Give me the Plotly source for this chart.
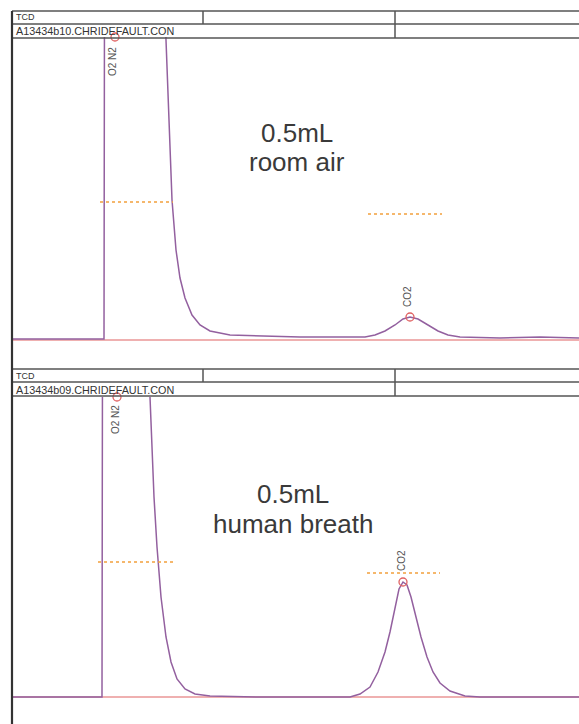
import plotly.graph_objects as go

W, H = 579, 724

# ---------------- data (time in min, signal in arbitrary units) ----------------
t_top = [0.00, 0.92, 0.93, 1.48, 1.54, 1.57, 1.60, 1.64, 1.68, 1.73, 1.80, 1.88, 1.98, 2.18,
         2.48, 2.88, 3.28, 3.53, 3.63, 3.73, 3.83, 3.91, 3.98, 4.06, 4.16, 4.26, 4.36, 4.48,
         4.88, 5.28, 5.67]
sig_top = [1, 1, 700, 700, 300, 210, 140, 90, 62, 42, 25, 15, 9, 5,
           4, 3, 3, 3, 5, 9, 15, 21, 23, 21, 15, 9, 5, 3,
           2, 3, 2]

t_bot = [0.00, 0.90, 0.91, 1.34, 1.38, 1.40, 1.42, 1.45, 1.49, 1.54, 1.59, 1.65, 1.73, 1.83,
         1.98, 2.48, 3.38, 3.48, 3.58, 3.66, 3.73, 3.78, 3.83, 3.87, 3.91, 3.95, 3.99, 4.04,
         4.09, 4.15, 4.21, 4.28, 4.38, 4.53, 4.68, 5.67]
sig_bot = [0, 0, 700, 700, 300, 250, 200, 150, 100, 60, 35, 18, 8, 3,
           1, 0, 0, 3, 10, 25, 45, 65, 90, 108, 115, 112, 100, 80,
           60, 40, 25, 14, 6, 1, 0, 0]

peak_names = ["O2 N2", "CO2"]
peak_t_top = [1.03, 3.98]
peak_s_top = [303, 23]
peak_t_bot = [1.05, 3.91]
peak_s_bot = [300, 115]

# peak-width markers (start, end, level)
width_top = [(0.88, 1.61, 138), (3.56, 4.30, 126)]
width_bot = [(0.86, 1.61, 135), (3.55, 4.28, 124)]

file_top = "A13434b10.CHRIDEFAULT.CON"
file_bot = "A13434b09.CHRIDEFAULT.CON"
label_top = ["0.5mL", "room air"]
label_bot = ["0.5mL", "human breath"]

X_RANGE = [0, 5.67]

# ---------------- styles ----------------
PURPLE = "#93609f"
RED = "#e06262"
ORANGE = "#f2a03c"
GRID = "#555555"

def py(px):
    return 1 - px / H

def pxx(px):
    return px / W

fig = go.Figure()

for xa, ya, t, s, pt, ps, wl in [("x", "y", t_top, sig_top, peak_t_top, peak_s_top, width_top),
                                  ("x2", "y2", t_bot, sig_bot, peak_t_bot, peak_s_bot, width_bot)]:
    fig.add_trace(go.Scatter(x=X_RANGE, y=[0, 0], mode="lines", xaxis=xa, yaxis=ya,
                             line=dict(color=RED, width=1.2), hoverinfo="skip"))
    fig.add_trace(go.Scatter(x=t, y=s, mode="lines", xaxis=xa, yaxis=ya,
                             line=dict(color=PURPLE, width=1.5), hoverinfo="skip"))
    for a, b, lv in wl:
        fig.add_trace(go.Scatter(x=[a, b], y=[lv, lv], mode="lines", xaxis=xa, yaxis=ya,
                                 line=dict(color=ORANGE, width=1.5, dash="dot"), hoverinfo="skip"))
    fig.add_trace(go.Scatter(x=pt, y=ps, mode="markers", xaxis=xa, yaxis=ya, cliponaxis=False,
                             marker=dict(symbol="circle-open", size=8, color=RED,
                                         line=dict(width=1.3, color=RED)), hoverinfo="skip"))

ax_common = dict(showgrid=False, zeroline=False, showticklabels=False, ticks="",
                 showline=False, fixedrange=True)
fig.update_layout(
    width=W, height=H, autosize=False,
    margin=dict(l=0, r=0, t=0, b=0),
    paper_bgcolor="white", plot_bgcolor="white",
    showlegend=False,
    xaxis=dict(domain=[pxx(12), 1], range=X_RANGE, anchor="y", **ax_common),
    yaxis=dict(domain=[py(367), py(37)], range=[-27, 303], anchor="x", **ax_common),
    xaxis2=dict(domain=[pxx(12), 1], range=X_RANGE, anchor="y2", **ax_common),
    yaxis2=dict(domain=[py(724), py(397)], range=[-27, 300], anchor="x2", **ax_common),
)

shapes = []
def hline(y, x0=12, x1=W + 5, w=1.5, c=GRID):
    shapes.append(dict(type="line", xref="paper", yref="paper", x0=pxx(x0), x1=pxx(x1),
                       y0=py(y), y1=py(y), line=dict(color=c, width=w)))
def vline(x, y0, y1, w=1.5, c=GRID):
    shapes.append(dict(type="line", xref="paper", yref="paper", x0=pxx(x), x1=pxx(x),
                       y0=py(y0), y1=py(y1), line=dict(color=c, width=w)))

for top in (11, 369):
    hline(top)
    hline(top + 13)
    hline(top + 27)
    vline(203, top, top + 13)
    vline(395, top, top + 27)
vline(12, 11, H + 5, w=2.2, c="#333333")

fig.update_layout(shapes=shapes)

ann = []
def head(text, ypx, size):
    ann.append(dict(text=text, xref="paper", yref="paper", x=pxx(14), y=py(ypx),
                    xanchor="left", yanchor="middle", showarrow=False,
                    font=dict(family="Liberation Sans, Arial", size=size, color="#333333")))

head("TCD", 17.5, 9)
head(file_top, 31, 10.8)
head("TCD", 375.5, 9)
head(file_bot, 389.5, 10.8)

label_shift_top = [-25, 20]
label_shift_bot = [-23, 21]
for xa, ya, pt, ps, shifts in [("x", "y", peak_t_top, peak_s_top, label_shift_top),
                                ("x2", "y2", peak_t_bot, peak_s_bot, label_shift_bot)]:
    for name, t, s, sh in zip(peak_names, pt, ps, shifts):
        ann.append(dict(text=name, x=t, y=s, xref=xa, yref=ya, textangle=-90,
                        showarrow=False, yshift=sh, xshift=-2,
                        xanchor="center", yanchor="middle",
                        font=dict(family="Liberation Sans, Arial", size=10, color="#555555")))

for xa, ya, tc, levels, labels in [("x", "y", 2.85, [207, 178], label_top),
                                   ("x2", "y2", 2.81, [203, 173], label_bot)]:
    for lv, txt in zip(levels, labels):
        ann.append(dict(text=txt, x=tc, y=lv, xref=xa, yref=ya, showarrow=False,
                        xanchor="center", yanchor="middle",
                        font=dict(family="Liberation Sans, Arial", size=26, color="#3a3a3a")))

fig.update_layout(annotations=ann)
fig.write_html("out.html", config={"displayModeBar": False, "staticPlot": True},
               post_script="document.body.style.margin='0';document.body.style.overflow='hidden';")
